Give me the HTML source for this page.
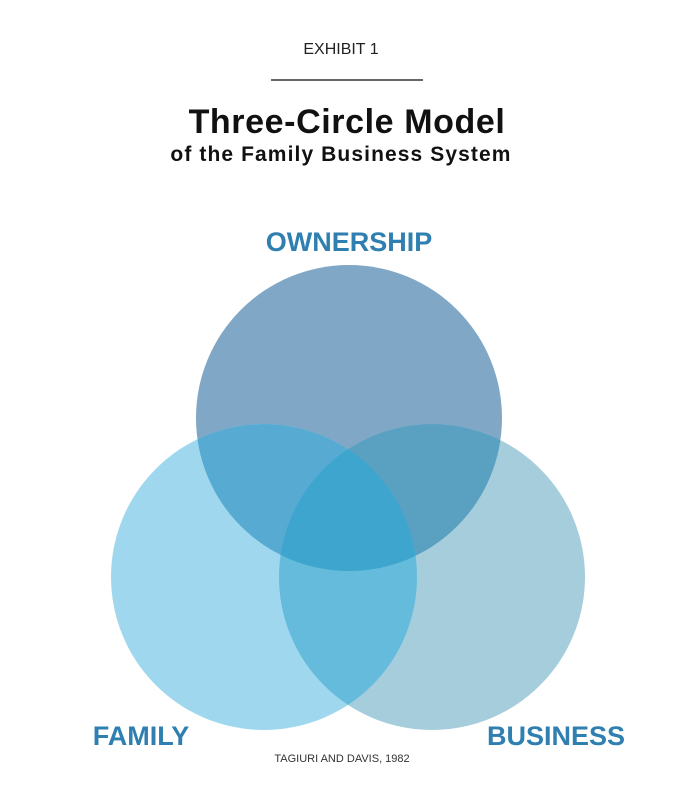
<!DOCTYPE html>
<html><head><style>
html,body{margin:0;padding:0;background:#fff;}
svg{display:block;}
</style></head><body>
<svg width="678" height="800" viewBox="0 0 678 800" xmlns="http://www.w3.org/2000/svg" font-family="Liberation Sans, Arial, sans-serif">
<defs>
<clipPath id="cO"><circle cx="349" cy="418" r="153"/></clipPath>
<clipPath id="cF"><circle cx="264" cy="577" r="153"/></clipPath>
</defs>
<text x="341" y="54" text-anchor="middle" font-size="16" fill="#222">EXHIBIT 1</text>
<line x1="271" y1="80" x2="423" y2="80" stroke="#333" stroke-width="1.5"/>
<text x="347" y="133" text-anchor="middle" font-size="34" font-weight="bold" fill="#111" letter-spacing="0.6">Three-Circle Model</text>
<text x="341" y="161" text-anchor="middle" font-size="21" font-weight="bold" fill="#111" letter-spacing="1.1">of the Family Business System</text>
<text x="349" y="251" text-anchor="middle" font-size="27" font-weight="bold" fill="#2f7fb0">OWNERSHIP</text>
<circle cx="349" cy="418" r="153" fill="#80a8c6"/>
<circle cx="264" cy="577" r="153" fill="#9fd8ee"/>
<circle cx="432" cy="577" r="153" fill="#a5cddb"/>
<g clip-path="url(#cF)"><circle cx="432" cy="577" r="153" fill="#65bbdc"/></g>
<g clip-path="url(#cO)"><circle cx="264" cy="577" r="153" fill="#57abd3"/></g>
<g clip-path="url(#cO)"><circle cx="432" cy="577" r="153" fill="#5aa0c1"/></g>
<g clip-path="url(#cO)"><g clip-path="url(#cF)"><circle cx="432" cy="577" r="153" fill="#3ea6ce"/></g></g>
<text x="141" y="745" text-anchor="middle" font-size="27" font-weight="bold" fill="#2f7fb0">FAMILY</text>
<text x="556" y="745" text-anchor="middle" font-size="27" font-weight="bold" fill="#2f7fb0">BUSINESS</text>
<text x="342" y="762" text-anchor="middle" font-size="11" fill="#333">TAGIURI AND DAVIS, 1982</text>
</svg>
</body></html>
